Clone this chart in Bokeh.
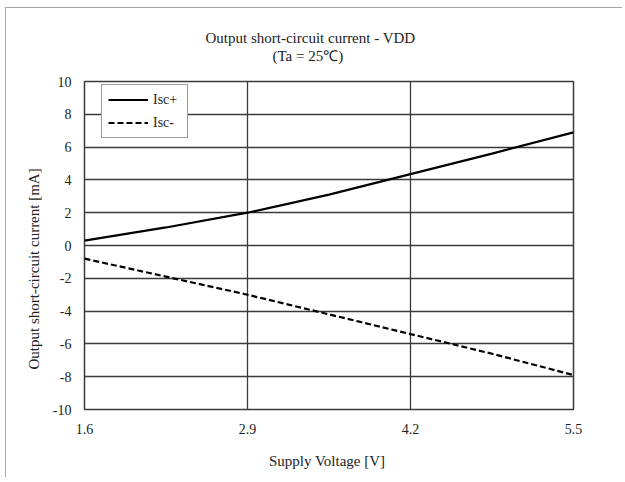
from bokeh.plotting import figure
from bokeh.models import Range1d, FixedTicker, Title, Legend, LegendItem
from bokeh.embed import file_html
from bokeh.resources import INLINE

voltage = [1.6, 2.25, 2.9, 3.55, 4.2, 4.85, 5.5]
isc_plus = [0.3, 1.1, 2.0, 3.1, 4.35, 5.6, 6.9]
isc_minus = [-0.8, -1.9, -3.0, -4.2, -5.4, -6.6, -7.9]
x_ticks = [1.6, 2.9, 4.2, 5.5]
y_ticks = [-10, -8, -6, -4, -2, 0, 2, 4, 6, 8, 10]
y_tick_labels = ["-10", "-8", "-6", "-4", "-2", "0", "2", "4", "6", "8", "10"]

FONT = "Liberation Serif"
GRID = "#3a3a3a"
TXT = "#222222"

p = figure(width=617, height=470, output_backend="svg", toolbar_location=None,
           x_range=Range1d(1.6, 5.5), y_range=Range1d(-10, 10),
           min_border_left=78, min_border_right=50, min_border_top=73, min_border_bottom=69,
           background_fill_color="white", border_fill_color="white")
p.styles = {"margin-left": "5px", "margin-top": "7px",
            "border-left": "1px solid #a6a6a6", "border-top": "1px solid #a6a6a6"}

p.add_layout(Title(text="(Ta = 25\u2103)", align="left", offset=188, standoff=36,
                   text_font=FONT, text_font_size="15px",
                   text_font_style="normal", text_color=TXT), "above")
p.add_layout(Title(text="Output short-circuit current - VDD", align="left", offset=121, standoff=-36,
                   text_font=FONT, text_font_size="15px", text_font_style="normal",
                   text_color=TXT), "above")

r1 = p.line(voltage, isc_plus, line_color="black", line_width=2.2)
r2 = p.line(voltage, isc_minus, line_color="black", line_width=2.2, line_dash="6 3")

p.xaxis.ticker = FixedTicker(ticks=x_ticks)
p.yaxis.ticker = FixedTicker(ticks=y_ticks)
p.yaxis.major_label_overrides = {t: s for t, s in zip(y_ticks, y_tick_labels)}
for ax in (p.xaxis[0], p.yaxis[0]):
    ax.major_tick_out = 0
    ax.major_tick_in = 0
    ax.minor_tick_out = 0
    ax.minor_tick_in = 0
    ax.axis_line_color = None
    ax.major_label_text_font = FONT
    ax.major_label_text_font_size = "14px"
    ax.major_label_text_color = TXT
    ax.axis_label_text_font = FONT
    ax.axis_label_text_font_style = "normal"
    ax.axis_label_text_color = TXT

p.xaxis.axis_label = "Supply Voltage  [V]"
p.xaxis.axis_label_text_font_size = "15px"
p.xaxis.major_label_standoff = 14
p.xaxis.axis_label_standoff = 16
p.yaxis.major_label_standoff = 13

p.add_layout(Title(text="Output short-circuit current [mA]", align="left", offset=40, standoff=16,
                   text_font=FONT, text_font_size="15px", text_font_style="normal",
                   text_color=TXT), "left")

p.xgrid.grid_line_color = GRID
p.ygrid.grid_line_color = GRID
p.xgrid.grid_line_width = 1.3
p.ygrid.grid_line_width = 1.3
p.outline_line_color = GRID
p.outline_line_width = 1.5

legend = Legend(items=[LegendItem(label="Isc+", renderers=[r1]),
                       LegendItem(label="Isc-", renderers=[r2])],
                location=(17, 271), orientation="vertical",
                label_text_font=FONT, label_text_font_size="14px", label_text_color=TXT,
                glyph_width=40, glyph_height=17, label_height=17, label_standoff=5,
                label_width=28, spacing=6, padding=6, margin=0,
                border_line_color=GRID, border_line_width=1.3,
                background_fill_color="white", background_fill_alpha=1.0)
p.add_layout(legend, "center")

open("out.html", "w").write(file_html(p, INLINE))
